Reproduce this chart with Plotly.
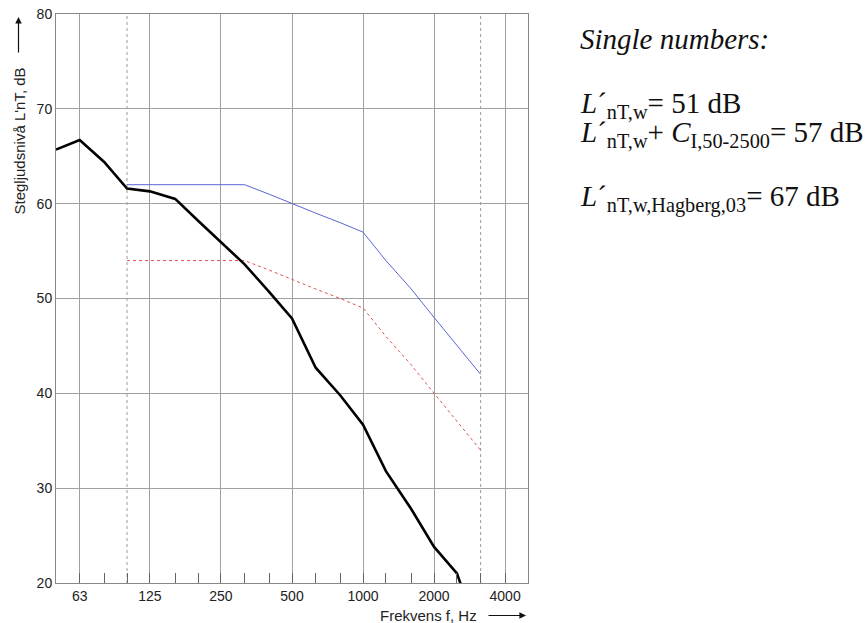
import math
import plotly.graph_objects as go

# ---- data ----
freq = [50, 63, 80, 100, 125, 160, 200, 250, 315, 400, 500, 630, 800, 1000, 1250, 1600, 2000, 2500, 3150]
measured = [65.7, 66.7, 64.4, 61.6, 61.3, 60.5, 58.2, 55.9, 53.6, 50.7, 47.9, 42.7, 39.8, 36.7, 31.8, 27.8, 23.8, 21.0, 14.0]

ref_freq = [100, 125, 160, 200, 250, 315, 400, 500, 630, 800, 1000, 1250, 1600, 2000, 2500, 3150]
ref_upper = [62, 62, 62, 62, 62, 62, 61, 60, 59, 58, 57, 54, 51, 48, 45, 42]
ref_shifted = [54, 54, 54, 54, 54, 54, 53, 52, 51, 50, 49, 46, 43, 40, 37, 34]

eval_range = [100, 3150]
major_ticks = [63, 125, 250, 500, 1000, 2000, 4000]
major_labels = ["63", "125", "250", "500", "1000", "2000", "4000"]
minor_ticks = [63, 80, 100, 125, 160, 200, 250, 315, 400, 500, 630, 800, 1000, 1250, 1600, 2000, 2500, 3150, 4000]
y_range = [20, 80]
y_ticks = [20, 30, 40, 50, 60, 70, 80]
x_range_hz = [50, 5000]

fig = go.Figure()

for f in eval_range:
    fig.add_trace(go.Scatter(x=[f, f], y=y_range, mode="lines",
                             line=dict(color="#9a9a9a", width=1, dash="dot"),
                             hoverinfo="skip", showlegend=False))

fig.add_trace(go.Scatter(x=ref_freq, y=ref_upper, mode="lines",
                         line=dict(color="#5b66d4", width=1), showlegend=False))
fig.add_trace(go.Scatter(x=ref_freq, y=ref_shifted, mode="lines",
                         line=dict(color="#e0524f", width=1, dash="dot"), showlegend=False))
fig.add_trace(go.Scatter(x=freq, y=measured, mode="lines",
                         line=dict(color="#000000", width=2.6), showlegend=False))

L, R, T, B = 56, 528, 14, 583
W, H = 867, 623

fig.update_layout(
    width=W, height=H,
    margin=dict(l=L, r=W - R, t=T, b=H - B, pad=0, autoexpand=False),
    plot_bgcolor="white", paper_bgcolor="white",
    font=dict(family="Liberation Sans, Arial, sans-serif", size=14, color="#222"),
    xaxis=dict(type="log", range=[math.log10(x_range_hz[0]), math.log10(x_range_hz[1])],
               tickmode="array", tickvals=major_ticks, ticktext=major_labels,
               ticks="inside", ticklen=10, tickcolor="#666", tickwidth=1,
               showgrid=True, gridcolor="#a0a0a0", gridwidth=1,
               showline=True, linecolor="#888", linewidth=1, mirror=True,
               zeroline=False, automargin=False,
               minor=dict(tickmode="array", tickvals=minor_ticks, ticks="inside",
                          ticklen=10, tickcolor="#666", tickwidth=1, showgrid=False),
               tickfont=dict(size=14, color="#222")),
    yaxis=dict(range=y_range, tickmode="array", tickvals=y_ticks,
               ticks="", showgrid=True, gridcolor="#a0a0a0", gridwidth=1,
               showline=True, linecolor="#888", linewidth=1, mirror=True,
               zeroline=False, automargin=False, tickfont=dict(size=14, color="#222")),
)


def px(xp):
    return (xp - L) / (R - L)


def py(yp):
    return (B - yp) / (B - T)


# axis titles with arrows
fig.add_annotation(xref="paper", yref="paper", x=px(18.5), y=py(141),
                   xanchor="center", yanchor="middle",
                   text="Stegljudsnivå L'nT, dB", textangle=-90, showarrow=False,
                   font=dict(size=15, color="#222"))
fig.add_annotation(xref="paper", yref="paper", x=px(18.5), y=py(17), text="",
                   showarrow=True, ax=0, ay=37, arrowhead=2, arrowsize=1.1,
                   arrowwidth=1.2, arrowcolor="#111")
fig.add_annotation(xref="paper", yref="paper", x=px(428), y=py(615),
                   xanchor="center", yanchor="middle",
                   text="Frekvens f, Hz", showarrow=False,
                   font=dict(size=15, color="#222"))
fig.add_annotation(xref="paper", yref="paper", x=px(526), y=py(615.5), text="",
                   showarrow=True, ax=-39, ay=0, arrowhead=2, arrowsize=1.1,
                   arrowwidth=1.2, arrowcolor="#111")

serif = "Liberation Serif, Times New Roman, serif"
lines = [
    ("<i>Single numbers:</i>", 39),
    ("<i>L</i>´<sub>nT,w</sub>= 51 dB", 105),
    ("<i>L</i>´<sub>nT,w</sub>+ <i>C</i><sub>I,50-2500</sub>= 57 dB", 134),
    ("<i>L</i>´<sub>nT,w,Hagberg,03</sub>= 67 dB", 198),
]
for txt, yp in lines:
    fig.add_annotation(xref="paper", yref="paper", x=px(578), y=py(yp),
                       xanchor="left", yanchor="middle", text=txt, showarrow=False,
                       font=dict(family=serif, size=29, color="#111"))

fig.write_html("out.html", config={"displayModeBar": False},
               post_script="document.body.style.margin='0';document.body.style.overflow='hidden';")
